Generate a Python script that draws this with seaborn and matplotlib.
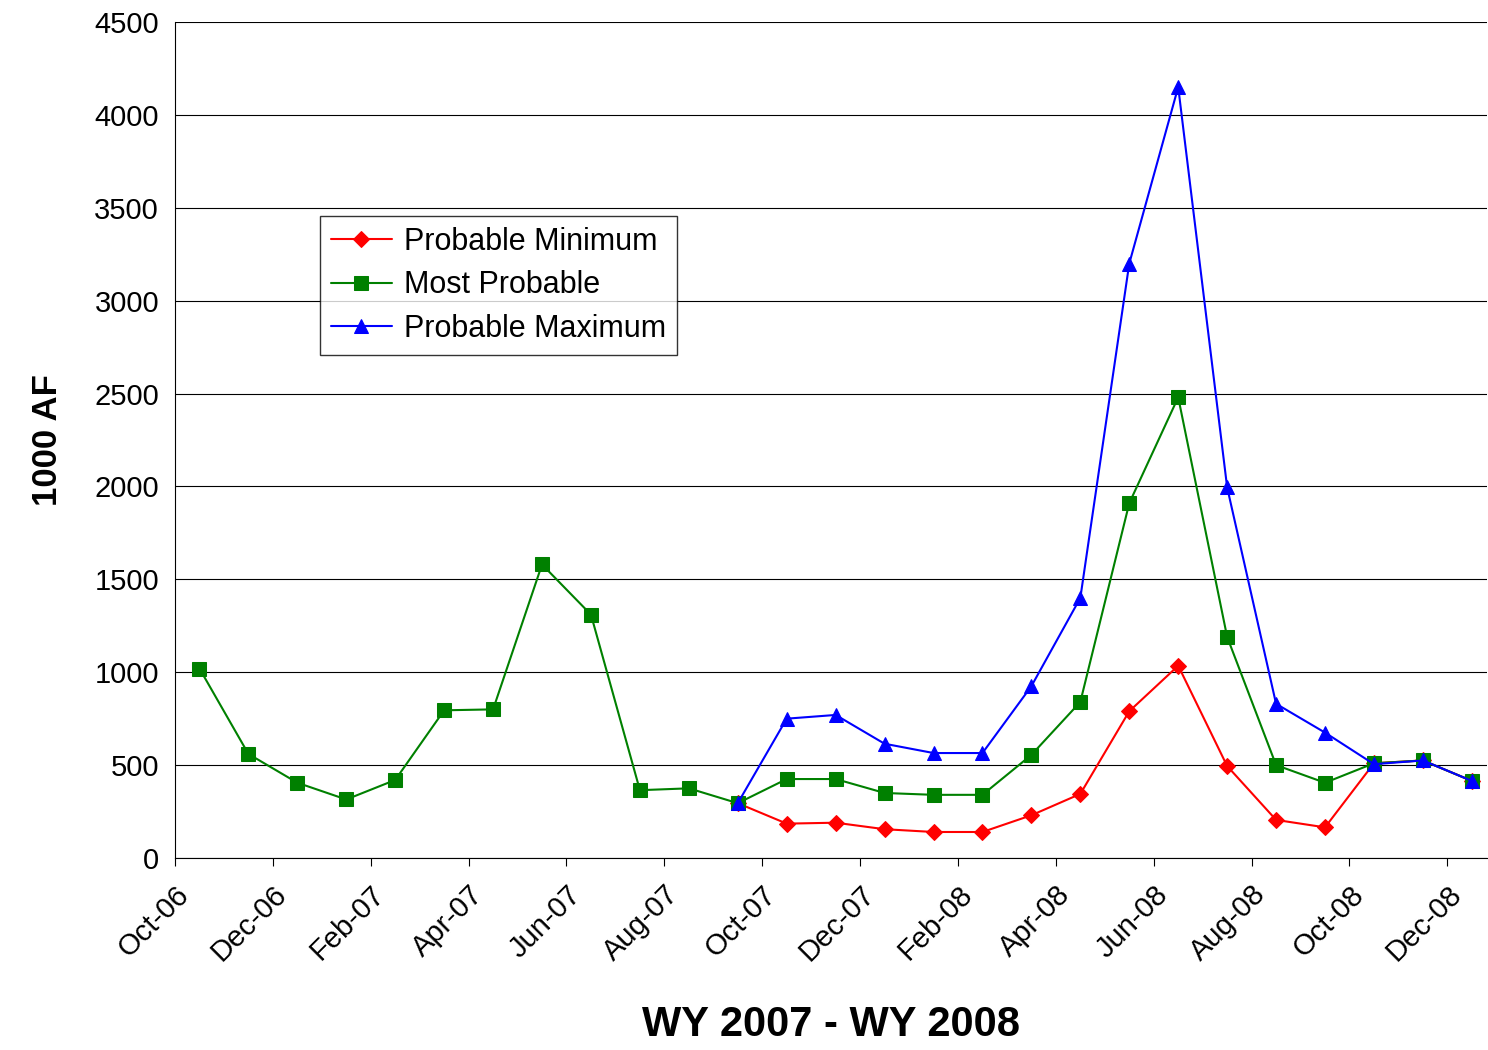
import numpy as np
import matplotlib
matplotlib.use("Agg")
import matplotlib.pyplot as plt
import seaborn as sns

months = ["Oct-06", "Nov-06", "Dec-06", "Jan-07", "Feb-07", "Mar-07", "Apr-07", "May-07", "Jun-07",
          "Jul-07", "Aug-07", "Sep-07", "Oct-07", "Nov-07", "Dec-07", "Jan-08", "Feb-08", "Mar-08",
          "Apr-08", "May-08", "Jun-08", "Jul-08", "Aug-08", "Sep-08", "Oct-08", "Nov-08", "Dec-08"]
most_probable = [1020, 560, 405, 315, 420, 795, 800, 1580, 1310, 365, 375, 295, 425, 425, 350, 340,
                 340, 555, 840, 1910, 2480, 1190, 500, 405, 510, 525, 415]
prob_min = [295, 185, 190, 155, 140, 140, 230, 345, 790, 1035, 495, 205, 165, 510, 525, 415]
prob_max = [295, 750, 770, 615, 565, 565, 925, 1400, 3200, 4150, 1995, 830, 675, 505, 525, 415]
start_fc = 11

sns.set_style("white")
plt.rcParams['font.family'] = ['Liberation Sans', 'DejaVu Sans']
plt.rcParams['text.color'] = 'black'
plt.rcParams['xtick.color'] = 'black'
plt.rcParams['ytick.color'] = 'black'
plt.rcParams['axes.labelcolor'] = 'black'

fig = plt.figure(figsize=(14.88, 10.5), dpi=100)
ax = fig.add_axes([175/1488, 1 - 858/1050, 1 - 175/1488 - 0.001, (858 - 22)/1050])

x_all = np.arange(len(months)) + 0.5
x_fc = x_all[start_fc:]

sns.lineplot(x=x_fc, y=prob_min, ax=ax, color="red", marker="D", markersize=8,
             markeredgecolor="red", lw=1.5, label="Probable Minimum")
sns.lineplot(x=x_all, y=most_probable, ax=ax, color="green", marker="s", markersize=10,
             markeredgecolor="green", lw=1.5, label="Most Probable")
sns.lineplot(x=x_fc, y=prob_max, ax=ax, color="blue", marker="^", markersize=10,
             markeredgecolor="blue", lw=1.5, label="Probable Maximum")
ax.set_xlim(0, 26.8)
ax.set_ylim(0, 4500)
ax.set_yticks(range(0, 4501, 500))
ax.yaxis.grid(True, color="black", lw=0.8)
ax.set_xticks(range(0, 27, 2))
ax.set_xticklabels(months[::2], rotation=45, ha="right", rotation_mode="anchor", fontsize=21)
ax.tick_params(axis="y", labelsize=21, pad=8)
ax.tick_params(axis="x", length=6, direction="out", bottom=True, pad=10)
for s in ["top", "right"]:
    ax.spines[s].set_visible(False)
for s in ["left", "bottom"]:
    ax.spines[s].set_color("black")
ax.set_ylabel("1000 AF", fontsize=25, fontweight="bold", labelpad=22)
ax.set_xlabel("WY 2007 - WY 2008", fontsize=30, fontweight="bold", labelpad=28)
leg = ax.legend(loc="upper left", bbox_to_anchor=(145/1313, 0.768), fontsize=22, frameon=True,
                fancybox=False, edgecolor="black", handlelength=2.0, handletextpad=0.4,
                borderpad=0.35, labelspacing=0.45, borderaxespad=0)
leg.get_frame().set_linewidth(1)
fig.savefig("out.png", dpi=100)
